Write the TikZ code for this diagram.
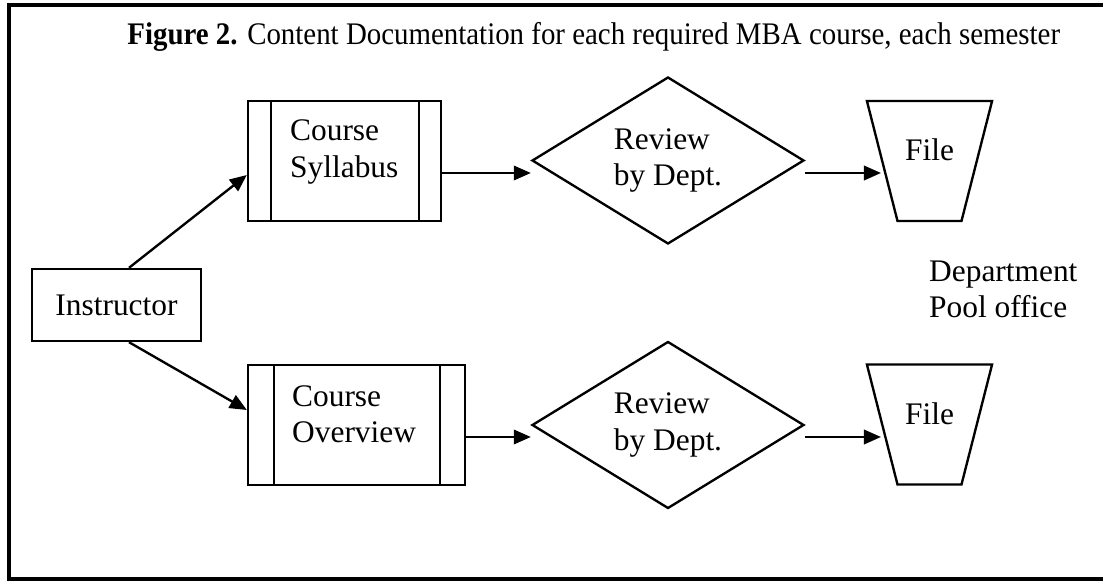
\documentclass[tikz,border=0pt]{standalone}
\usepackage{fontspec}
\setmainfont{Liberation Serif}
\usetikzlibrary{calc, arrows.meta, shapes.geometric}
\newcommand{\upx}{0.01343cm}

\begin{document}
\begin{tikzpicture}[x=\upx, y=-\upx, line width=0.9pt,
   every node/.style={font=\fontsize{12pt}{13.8pt}\selectfont},
   main box/.style={rectangle, draw, inner sep=0pt},
   review/.style={diamond, draw, aspect=1.63, inner sep=0pt, align=left, minimum width=272*\upx, minimum height=167*\upx},
   store/.style={trapezium, draw, trapezium left angle=75.7, trapezium right angle=75.7, shape border rotate=180, inner sep=0pt, align=center, text width=64*\upx, text height=60*\upx, text depth=60*\upx},
   arr/.style={-{Triangle[length=6.5pt, width=5.5pt]}}]
   \useasboundingbox (0,0) rectangle (1103,581);
   \draw[line width=1.3pt] (1103,5) -- (9,5) -- (9,579) -- (1103,579);

   \node[anchor=base east] (title) at (1070,45) {\scalebox{0.92}[1]{\textbf{Figure 2.} Content Documentation for each required MBA course, each semester}};

   \node[main box, minimum width=169*\upx, minimum height=72*\upx]  (instr) at (116.5,305) {Instructor};
   \node[main box, minimum width=193*\upx, minimum height=120*\upx] (syl) at (344.5,161) {};
   \node[main box, minimum width=217*\upx, minimum height=120*\upx] (ovw) at (356.5,425) {};
   \node[anchor=west, inner sep=0pt, align=left] (syltext) at (289,152) {Course\\Syllabus};
   \node[anchor=west, inner sep=0pt, align=left] (ovwtext) at (291,414) {Course\\Overview};
   \foreach \n/\a/\b in {syl/24/23, ovw/27/26} {
      \draw ($(\n.north west)+(\a,0)$) -- ($(\n.south west)+(\a,0)$);
      \draw ($(\n.north east)+(-\b,0)$) -- ($(\n.south east)+(-\b,0)$);
   }

   \node[review] (rev1) at (668,160.5) {Review\\by Dept.};
   \node[review] (rev2) at (668,425) {Review\\by Dept.};
   \node[store]  (file1) at (929.5,161) {File};
   \node[store]  (file2) at (929.5,424.5) {File};
   \node[anchor=west, inner sep=0pt, align=left] (pool) at (928,289.5) {Department\\Pool office};

   \coordinate (s1) at ($(syl.east)+(0,12)$);
   \coordinate (s2) at ($(ovw.east)+(0,12)$);
   \coordinate (r1) at ($(rev1.east)+(0,12.5)$);
   \coordinate (r2) at ($(rev2.east)+(0,12)$);

   \draw[arr] ($(instr.north)+(12.5,0)$) -- ($(syl.west)+(0,14)$);
   \draw[arr] ($(instr.south)+(12.5,0)$) -- ($(ovw.west)+(0,-15)$);
   \draw[arr] (s1) -- (s1 -| rev1.west);
   \draw[arr] (s2) -- (s2 -| rev2.west);
   \draw[arr] (r1) -- (r1 -| file1.west);
   \draw[arr] (r2) -- (r2 -| file2.west);
\end{tikzpicture}
\end{document}
